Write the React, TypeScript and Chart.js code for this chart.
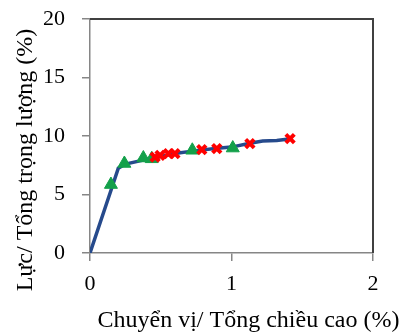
import React, { useEffect, useRef } from "react";
import { Chart, registerables } from "chart.js";

Chart.register(...registerables);

const lineX = [0, 0.155, 0.2, 0.25, 0.4, 0.5, 0.6, 0.75, 0.9, 1.0, 1.13, 1.22, 1.32, 1.42];
const lineY = [0, 5.6, 7.25, 7.6, 8.0, 8.25, 8.5, 8.75, 8.95, 9.05, 9.38, 9.58, 9.62, 9.77];

const greenX = [0.148, 0.243, 0.377, 0.436, 0.723, 1.009];
const greenY = [5.85, 7.65, 8.12, 8.05, 8.78, 8.97];

const redX = [0.46, 0.495, 0.554, 0.6, 0.79, 0.896, 1.13, 1.414];
const redY = [8.2, 8.35, 8.49, 8.5, 8.84, 8.92, 9.35, 9.78];

const xTicks = [0, 1, 2];
const yTicks = [0, 5, 10, 15, 20];

const xTitle = "Chuyển vị/ Tổng chiều cao (%)";
const yTitle = "Lực/ Tổng trọng lượng (%)";

const FONT = "'Liberation Serif', 'Times New Roman', serif";

const pts = (xs: number[], ys: number[]) => xs.map((x, i) => ({ x, y: ys[i] }));

const frame = {
  id: "frame",
  afterDraw(chart: any) {
    const { ctx, chartArea: a } = chart;
    ctx.save();
    ctx.strokeStyle = "#404040";
    ctx.lineWidth = 2;
    ctx.beginPath();
    ctx.moveTo(a.left, a.top);
    ctx.lineTo(a.right, a.top);
    ctx.lineTo(a.right, a.bottom);
    ctx.stroke();
    ctx.fillStyle = "#000";
    ctx.font = `24px ${FONT}`;
    ctx.textAlign = "center";
    ctx.textBaseline = "alphabetic";
    ctx.fillText(xTitle, 248.5, 327);
    ctx.translate(32, 160);
    ctx.rotate(-Math.PI / 2);
    ctx.fillText(yTitle, 0, 0);
    ctx.restore();
  },
};

export default function App() {
  const ref = useRef<HTMLCanvasElement>(null);
  useEffect(() => {
    const chart = new Chart(ref.current!, {
      type: "scatter",
      data: {
        datasets: [
          {
            data: pts(redX, redY),
            pointStyle: "crossRot",
            pointRadius: 6,
            borderColor: "#ff0000",
            backgroundColor: "#ff0000",
            pointBorderWidth: 4,
            showLine: false,
            order: 1,
          },
          {
            data: pts(greenX, greenY),
            pointStyle: "triangle",
            pointRadius: 7.5,
            borderColor: "#13a04a",
            backgroundColor: "#13a04a",
            pointBorderWidth: 1,
            showLine: false,
            order: 2,
          },
          {
            data: pts(lineX, lineY),
            showLine: true,
            borderColor: "#264a8c",
            borderWidth: 3.5,
            pointRadius: 0,
            order: 3,
          },
        ],
      },
      options: {
        responsive: false,
        animation: false,
        layout: { autoPadding: false, padding: { left: 0, top: 19, right: 27, bottom: 0 } },
        plugins: { legend: { display: false }, tooltip: { enabled: false } },
        scales: {
          x: {
            type: "linear",
            min: 0,
            max: 2,
            afterBuildTicks: (s: any) => {
              s.ticks = xTicks.map((v) => ({ value: v }));
            },
            afterFit: (s: any) => {
              s.height = 82;
              s.paddingLeft = 0;
              s.paddingRight = 0;
            },
            grid: { drawOnChartArea: false, tickLength: 8, color: "#868686", lineWidth: 1.5 },
            border: { color: "#868686", width: 1.5 },
            ticks: { color: "#000", font: { family: FONT, size: 22 }, padding: 10 },
          },
          y: {
            type: "linear",
            min: 0,
            max: 20,
            afterBuildTicks: (s: any) => {
              s.ticks = yTicks.map((v) => ({ value: v }));
            },
            afterFit: (s: any) => {
              s.width = 90;
              s.paddingTop = 0;
              s.paddingBottom = 0;
            },
            grid: { drawOnChartArea: false, tickLength: 8, color: "#868686", lineWidth: 1.5 },
            border: { color: "#868686", width: 1.5 },
            ticks: { color: "#000", font: { family: FONT, size: 22 }, padding: 17 },
          },
        },
      },
      plugins: [frame],
    });
    return () => chart.destroy();
  }, []);
  return (
    <div style={{ position: "absolute", left: 0, top: 0, width: 400, height: 335, background: "#fff" }}>
      <canvas ref={ref} width={400} height={335} />
    </div>
  );
}
